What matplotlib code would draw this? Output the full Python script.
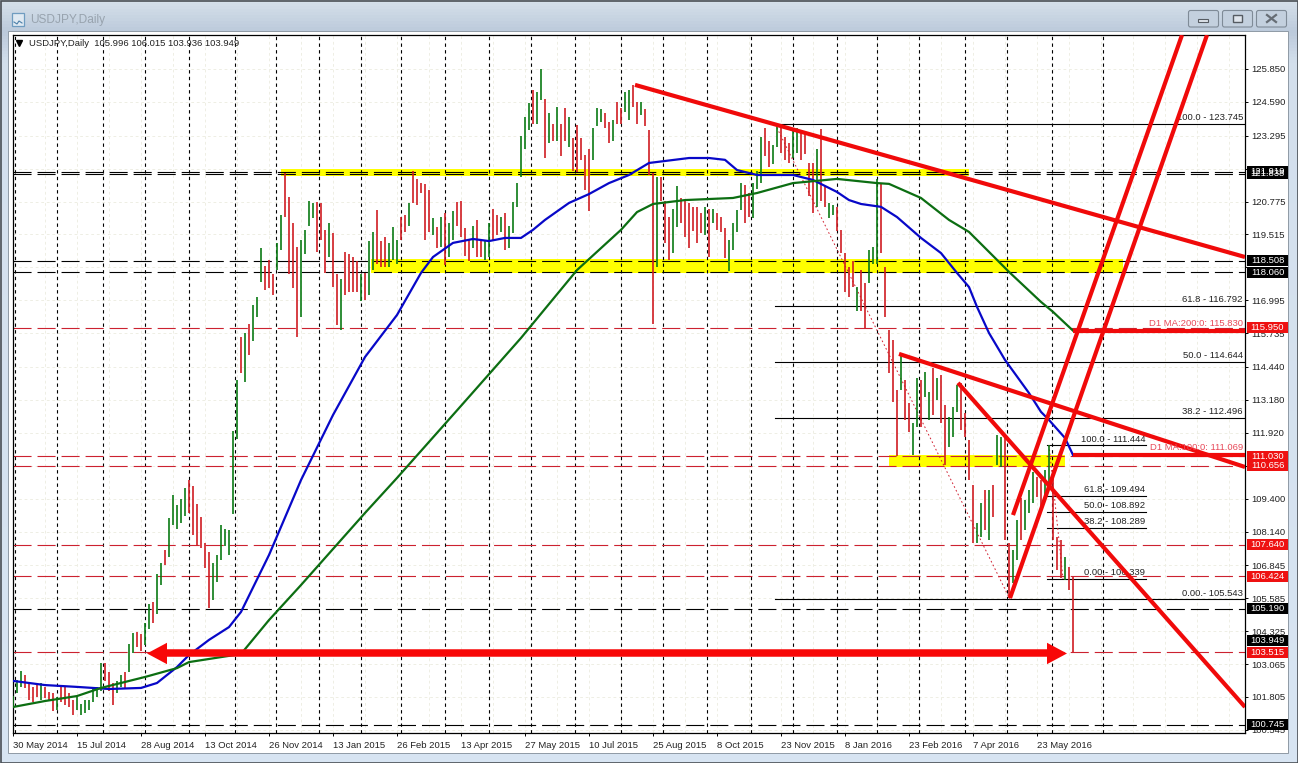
import numpy as np
import matplotlib
matplotlib.use('Agg')
import matplotlib.pyplot as plt
from matplotlib.patches import Rectangle, FancyBboxPatch
from matplotlib.transforms import blended_transform_factory

plt.rcParams['font.family'] = ['Liberation Sans', 'DejaVu Sans']
plt.rcParams['lines.scale_dashes'] = False

# daily bars, one value every second trading day
highs = [
    101.85, 102.45, 102.8, 102.65, 102.35, 102.2, 102.25, 102.35, 102.2, 102.0, 101.95, 101.8, 102.25, 102.2, 101.95, 101.7,
    101.8, 101.55, 101.7, 101.7, 102.15, 102.2, 103.1, 103.1, 102.75, 102.35, 102.4, 102.65, 102.75, 103.85, 104.25, 104.3,
    104.2, 104.65, 105.35, 105.45, 106.5, 106.95, 107.45, 108.65, 109.55, 109.15, 109.4, 109.8, 110.1, 109.9, 109.2, 108.7,
    107.7, 107.35, 106.95, 107.25, 108.4, 108.25, 108.2, 112.0, 113.95, 115.6, 115.75, 116.1, 116.8, 117.1, 119.0, 118.3,
    118.55, 118.0, 119.2, 120.25, 121.85, 120.95, 119.95, 119.05, 119.3, 119.7, 120.8, 120.7, 120.75, 120.7, 119.7, 119.95,
    119.55, 118.0, 117.8, 118.85, 118.75, 118.65, 118.5, 118.0, 118.05, 119.25, 119.6, 120.45, 119.25, 119.4, 119.2, 119.8,
    119.3, 120.2, 120.25, 120.7, 121.95, 121.65, 121.5, 121.45, 121.2, 120.15, 119.8, 120.2, 120.35, 119.95, 120.4, 120.75,
    120.8, 119.75, 119.35, 119.85, 120.05, 119.3, 119.25, 119.95, 120.5, 120.25, 120.2, 120.35, 119.85, 120.75, 121.5, 123.3,
    124.0, 124.55, 125.05, 124.95, 125.85, 124.7, 124.15, 123.75, 124.4, 123.75, 124.35, 124.0, 123.2, 123.7, 123.2, 122.55,
    122.8, 123.6, 124.35, 124.3, 124.15, 123.8, 123.9, 124.6, 124.35, 124.95, 125.05, 125.25, 124.6, 124.6, 124.3, 123.5,
    121.85, 121.7, 121.7, 120.8, 120.2, 120.5, 121.35, 120.9, 120.8, 120.7, 120.55, 120.55, 120.35, 120.55, 120.5, 120.5,
    120.35, 120.2, 119.75, 119.3, 119.95, 120.45, 121.5, 121.4, 121.1, 121.5, 121.95, 123.25, 123.6, 123.1, 122.95, 123.7,
    123.6, 123.25, 123.0, 123.5, 123.6, 123.45, 123.45, 122.25, 122.25, 122.8, 123.55, 121.35, 120.7, 120.65, 120.55, 119.7,
    118.8, 118.25, 118.5, 117.5, 118.15, 117.65, 118.9, 119.05, 121.65, 121.5, 118.25, 115.86, 115.47, 113.56, 114.9, 113.94,
    113.06, 112.29, 114.02, 113.94, 114.25, 113.48, 114.4, 114.02, 114.13, 112.98, 112.52, 112.91, 113.75, 113.83, 112.68, 111.64,
    109.92, 108.47, 109.23, 109.73, 109.73, 109.92, 111.84, 111.76, 111.76, 107.7, 107.43, 108.58, 109.42, 109.35, 109.73, 110.42,
    110.23, 110.11, 110.49, 111.45, 110.49, 107.93, 107.82, 107.16, 106.78, 106.4,
]
lows = [
    101.42, 101.95, 102.2, 102.15, 101.7, 101.6, 101.8, 101.7, 101.75, 101.7, 101.25, 101.3, 101.6, 101.5, 101.42, 101.1,
    101.3, 101.1, 101.2, 101.3, 101.6, 101.8, 102.05, 102.4, 102.05, 101.5, 101.95, 102.2, 102.15, 102.75, 103.5, 103.7,
    103.55, 103.8, 104.4, 104.65, 105.0, 106.1, 106.85, 107.15, 108.4, 108.25, 108.45, 108.75, 108.85, 108.0, 107.6, 107.5,
    106.75, 105.2, 105.5, 106.2, 107.05, 107.6, 107.25, 108.8, 111.7, 114.2, 113.85, 114.9, 115.45, 116.35, 117.7, 117.4,
    117.45, 117.2, 118.15, 118.9, 120.2, 118.0, 117.45, 115.6, 116.35, 118.75, 119.85, 120.15, 118.85, 119.3, 118.05, 118.65,
    117.5, 116.05, 115.85, 117.2, 117.3, 117.3, 117.3, 116.95, 117.0, 117.2, 118.15, 118.4, 118.25, 118.25, 118.25, 118.55,
    118.4, 119.3, 119.6, 119.85, 120.7, 120.65, 121.1, 119.3, 119.6, 119.5, 119.0, 119.05, 118.35, 118.65, 119.3, 119.85,
    119.4, 118.7, 118.5, 119.0, 118.65, 118.65, 118.55, 118.65, 119.3, 119.5, 119.6, 118.9, 119.0, 119.55, 120.55, 121.7,
    122.8, 123.5, 123.75, 123.75, 124.65, 122.45, 123.0, 123.1, 123.1, 122.5, 123.1, 122.85, 121.95, 121.9, 122.35, 121.2,
    120.4, 122.35, 123.65, 123.8, 123.6, 123.0, 123.1, 123.75, 123.75, 124.2, 123.9, 124.4, 123.75, 124.1, 123.65, 121.8,
    116.1, 118.27, 120.8, 119.2, 118.55, 118.8, 119.8, 119.95, 119.4, 119.0, 119.65, 119.2, 119.55, 119.5, 118.65, 119.95,
    119.7, 119.6, 118.6, 118.1, 118.9, 119.6, 120.45, 119.95, 120.2, 120.15, 121.25, 121.5, 122.5, 122.1, 122.2, 122.85,
    122.65, 122.35, 122.25, 122.45, 122.65, 122.35, 122.6, 121.0, 120.35, 120.55, 120.8, 120.55, 120.15, 120.25, 119.65, 118.8,
    117.3, 117.1, 117.5, 116.6, 116.6, 115.95, 117.65, 118.4, 118.4, 118.8, 116.35, 114.21, 113.1, 111.03, 113.56, 112.41,
    111.95, 111.07, 112.14, 112.14, 113.29, 112.41, 112.6, 113.18, 112.3, 110.69, 111.38, 111.76, 112.72, 112.03, 111.76, 110.11,
    107.7, 107.7, 107.93, 108.2, 107.82, 108.7, 110.69, 110.61, 107.82, 105.59, 106.17, 107.05, 107.82, 108.2, 108.85, 109.23,
    109.46, 109.08, 109.46, 109.85, 107.82, 106.67, 106.36, 106.28, 105.9, 103.52,
]
# g = close above open, r = close below open
directions = (
    "gggrrrrgrrrgrrrr" "gggggggrrrggrggr" "rggrggrgggggrrrr" "rrgggggggrgrgggr"
    "rrggrrrrggggrrrg" "rrgrrrrgrggrrrgg" "grrgrrrrrgrgrggr" "rrrgrrggrrgrgggg"
    "ggrggrgrgrrgrrrr" "rgggrrgrrggrrgrr" "rgrrrggrrrrrrgrg" "rrrggggrrgggrrgg"
    "rrrggrrrrgrrggrr" "rrrgrrgggrrrrrgr" "rggrggrgrrgggrrr" "rggrgrggrrggrggg"
    "rrggrrrgrr"
)

ma100_bars = [0, 8, 16, 24, 32, 36, 41, 44, 49, 54, 57, 64, 72, 80, 88, 96, 102, 105, 110, 115, 119, 123, 127,
              130, 133, 139, 144, 149, 154, 159, 169, 174, 178, 181, 186, 195, 200, 206, 209, 212, 217, 221,
              227, 232, 236, 239, 241, 244, 248, 254, 257, 259, 263, 265]
ma100 = [102.42, 102.26, 102.19, 102.11, 102.15, 102.34, 102.95, 103.41, 103.99, 104.48, 105.06, 107.24,
         110.11, 112.60, 114.82, 116.43, 118.04, 118.65, 119.19, 119.34, 119.26, 119.38, 119.38,
         119.69, 120.07, 120.72, 121.06, 121.48, 121.79, 122.25, 122.44, 122.44, 122.37, 121.98, 121.79,
         121.79, 121.60, 121.14, 120.83, 120.68, 120.57, 120.18, 119.38, 118.80, 118.04, 117.50, 116.74,
         115.74, 114.71, 113.44, 112.72, 112.41, 111.72, 111.07]
ma200_bars = [0, 8, 16, 22, 33, 41, 44, 57, 64, 72, 80, 88, 96, 104, 112, 127, 141, 152, 156, 160, 168, 180,
              186, 195, 206, 216, 219, 227, 234, 239, 246, 249, 257, 260, 265]
ma200 = [101.42, 101.65, 101.84, 102.15, 102.57, 102.91, 103.14, 103.45, 104.75, 106.09, 107.47, 108.85,
         110.19, 111.57, 112.95, 115.55, 118.15, 119.69, 120.37, 120.68, 120.83, 120.91,
         121.10, 121.48, 121.64, 121.48, 121.45, 120.91, 120.07, 119.61, 118.54, 118.08, 116.93, 116.55, 115.83]

# axis
date_labels = ['30 May 2014', '15 Jul 2014', '28 Aug 2014', '13 Oct 2014', '26 Nov 2014', '13 Jan 2015',
               '26 Feb 2015', '13 Apr 2015', '27 May 2015', '10 Jul 2015', '25 Aug 2015', '8 Oct 2015',
               '23 Nov 2015', '8 Jan 2016', '23 Feb 2016', '7 Apr 2016', '23 May 2016']
price_ticks = [125.850, 124.590, 123.295, 122.035, 120.775, 119.515, 118.255, 116.995, 115.735, 114.440,
               113.180, 111.920, 110.660, 109.400, 108.140, 106.845, 105.585, 104.325, 103.065, 101.805, 100.545]
hidden_ticks = [122.035, 118.255, 110.660]
separators = [0.5, 11, 22.5, 33, 44, 55.5, 65.75, 76.5, 87, 97, 108, 119, 129.5, 140.5, 152, 162.5, 173.5,
              184.5, 195, 206, 216, 226.5, 238, 248.5, 259.75, 272.5]

# horizontal levels
black_levels = [121.919, 121.838, 118.508, 118.060, 105.190, 100.745]
red_levels = [115.950, 111.030, 110.656, 107.640, 106.424, 103.515]
current_price = 103.949

# zones: bar from, bar to, price top, price bottom
zone_start = [67, 89.5, 219]
zone_end = [239, 277.5, 263]
zone_top = [122.03, 118.56, 111.08]
zone_bottom = [121.76, 118.02, 110.62]

# fibonacci retracements
fib_long = [(100.0, 123.745), (61.8, 116.792), (50.0, 114.644), (38.2, 112.496), (0.0, 105.543)]
fib_short = [(100.0, 111.444), (61.8, 109.494), (50.0, 108.892), (38.2, 108.289), (0.0, 106.339)]

# hand drawn trendlines: bar, price, bar, price
trend_lines = [
    (155.5, 125.24, 308, 118.65),
    (221.5, 114.94, 308, 110.61),
    (236.25, 113.83, 308, 101.42),
    (250, 108.77, 292.25, 127.15),
    (249.25, 105.59, 298.5, 127.15),
    (265, 115.83, 308, 115.83),
    (265, 111.07, 308, 111.07),
]
arrow_left = 33.5
arrow_right = 263.5
arrow_price = 103.47

# window frame first, everything in pixels
fig = plt.figure(figsize=(12.98, 7.63), dpi=100)
bg = fig.add_axes([0, 0, 1, 1])
bg.set_xlim(0, 1298)
bg.set_ylim(763, 0)
bg.axis('off')
grad = np.linspace(0, 1, 763).reshape(-1, 1)
frame_cmap = matplotlib.colors.LinearSegmentedColormap.from_list(
    'frame', [(0, '#d5e0ea'), (0.04, '#bccadb'), (0.08, '#d3dfec'), (1, '#d8e5f3')])
bg.imshow(grad, extent=(0, 1298, 763, 0), aspect='auto', cmap=frame_cmap, zorder=0)
bg.add_patch(Rectangle((0.5, 0.5), 1297, 762, fc='none', ec='#4a4f55', lw=1.2, zorder=1))
bg.add_patch(Rectangle((8, 31), 1280, 722, fc='white', ec='#8f9aa5', lw=0.7, zorder=1))
bg.text(30, 20.5, 'USDJPY,Daily', color='#98a3ae', fontsize=8.6, va='center', ha='left')
bg.add_patch(Rectangle((12, 13), 12, 13, fc='#dfe9f2', ec='#6f9cc0', lw=0.9))
bg.plot([14, 17, 19, 22], [22, 24, 21, 23], color='#4b7fa8', lw=0.8)
for bx in [1188.5, 1222.5, 1256.5]:
    bg.add_patch(FancyBboxPatch((bx, 10.5), 30, 16.5, boxstyle='round,pad=0,rounding_size=2',
                                fc='#c3d0de', ec='#7f8b97', lw=0.8))
bg.add_patch(Rectangle((1198, 18.5), 10, 3.5, fc='#dfe5ec', ec='#555b62', lw=0.8))
bg.add_patch(Rectangle((1233, 15), 9, 7, fc='#dfe5ec', ec='#555b62', lw=1.0))
bg.plot([1267, 1276], [15, 22], color='#666d75', lw=1.6)
bg.plot([1267, 1276], [22, 15], color='#666d75', lw=1.6)

# chart area
ax = fig.add_axes([12.7 / 1298, 1 - 733 / 763, (1245 - 12.7) / 1298, (733 - 35) / 763])
ax.set_facecolor('white')
ax.set_xlim(-0.075, 308)
ax.set_ylim(100.425, 127.15)

ax.set_xticks(np.arange(len(date_labels)) * 16)
ax.set_xticklabels(date_labels, ha='left', fontsize=6.8, color='#222222')
ax.set_xticks(np.arange(0, 308, 8), minor=True)
ax.yaxis.tick_right()
ax.set_yticks(price_ticks)
ax.set_yticklabels(['' if p in hidden_ticks else '%.3f' % p for p in price_ticks], fontsize=6.8, color='#222222')
ax.tick_params(axis='x', which='major', length=2.5, width=0.7, pad=3)
ax.tick_params(axis='x', which='minor', length=0)
ax.tick_params(axis='y', length=2.5, width=0.7, pad=2)
for s in ax.spines.values():
    s.set_linewidth(0.9)
    s.set_color('black')

grid_style = dict(color='#eeeee4', lw=0.7, linestyle=(0, (2, 2)), zorder=0)
ax.xaxis.grid(True, which='both', **grid_style)
ax.yaxis.grid(True, which='major', **grid_style)
ax.set_axisbelow(True)

for start, end, top, bottom in zip(zone_start, zone_end, zone_top, zone_bottom):
    ax.fill_between([start, end], bottom, top, color='#ffff00', lw=0, zorder=1)

for sx in separators:
    ax.axvline(sx, color='black', lw=0.8, linestyle=(0, (2.4, 2.4)), zorder=2)

long_dash = (0, (13, 4.3))
for lvl in black_levels:
    ax.axhline(lvl, color='black', lw=0.8, linestyle=long_dash, zorder=2)
for lvl in red_levels:
    ax.axhline(lvl, color='#cc2230', lw=0.8, linestyle=long_dash, zorder=2)

# fib levels
for pct, price in fib_long:
    ax.plot([190.5, 308], [price, price], color='black', lw=0.8, zorder=3)
    name = '0.00.- %.3f' % price if pct == 0 else '%.1f - %.3f' % (pct, price)
    ax.annotate(name, (308, price), xytext=(-1.5, 1.2), textcoords='offset points',
                ha='right', va='bottom', fontsize=6.8, color='#222222', zorder=6)
for pct, price in fib_short:
    ax.plot([258.5, 283.25], [price, price], color='black', lw=0.8, zorder=3)
    name = '0.00.- %.3f' % price if pct == 0 else '%.1f - %.3f' % (pct, price)
    ax.annotate(name, (283.25, price), xytext=(-0.5, 1.2), textcoords='offset points',
                ha='right', va='bottom', fontsize=6.8, color='#222222', zorder=6)
ax.plot([190.5, 249.25], [fib_long[0][1], fib_long[-1][1]], color='#d02030', lw=0.7,
        linestyle=(0, (1.2, 1.8)), zorder=3)
ax.plot([259, 262.5], [fib_short[0][1], fib_short[-1][1]], color='#d02030', lw=0.7,
        linestyle=(0, (1.2, 1.8)), zorder=3)

# bars
bar_x = np.arange(len(highs))
is_up = np.array([d == 'g' for d in directions])
ax.vlines(bar_x[is_up], np.array(lows)[is_up], np.array(highs)[is_up], color='#0a7a14', lw=1.2, zorder=4)
ax.vlines(bar_x[~is_up], np.array(lows)[~is_up], np.array(highs)[~is_up], color='#d01c22', lw=1.2, zorder=4)

# moving averages
ax.plot(ma100_bars, ma100, color='#0808c8', lw=1.6, zorder=5)
ax.plot(ma200_bars, ma200, color='#0c6e12', lw=1.6, zorder=5)

# trendlines
for x0, p0, x1, p1 in trend_lines:
    ax.plot([x0, x1], [p0, p1], color='#f00a0a', lw=3.0, solid_capstyle='butt', zorder=7)

# double arrow across the range
ax.plot([arrow_left + 5, arrow_right - 5], [arrow_price, arrow_price], color='#f80808', lw=5.4,
        solid_capstyle='butt', zorder=7)
ax.fill([arrow_left, arrow_left + 5, arrow_left + 5],
        [arrow_price, arrow_price + 0.41, arrow_price - 0.41], color='#f80808', lw=0, zorder=7)
ax.fill([arrow_right, arrow_right - 5, arrow_right - 5],
        [arrow_price, arrow_price + 0.41, arrow_price - 0.41], color='#f80808', lw=0, zorder=7)

# moving average labels
ax.annotate('D1 MA:200:0: 115.830', (308, 115.83), xytext=(-1.5, 2), textcoords='offset points',
            ha='right', va='bottom', fontsize=6.8, color='#e84a5a', zorder=8)
ax.annotate('D1 MA:100:0: 111.069', (308, 111.07), xytext=(-1.5, 2), textcoords='offset points',
            ha='right', va='bottom', fontsize=6.8, color='#e84a5a', zorder=8)

# price boxes on the right
trans = blended_transform_factory(ax.transAxes, ax.transData)
box_left = 1 + 2 / 1232
box_width = 41 / 1232
box_height = 11 * 0.03829
boxes = [(lvl, 'black') for lvl in black_levels] + [(lvl, '#ee1111') for lvl in red_levels] + [(current_price, 'black')]
boxes.sort(key=lambda b: -b[0])
for lvl, col in boxes:
    ax.add_patch(Rectangle((box_left, lvl - box_height / 2), box_width, box_height, transform=trans,
                           fc=col, ec='none', clip_on=False, zorder=9))
    ax.text(box_left + box_width / 2, lvl, '%.3f' % lvl, transform=trans, color='white', fontsize=6.8,
            ha='center', va='center', clip_on=False, zorder=10)

# symbol line at the top
ax.plot([0.005], [0.9885], marker='v', ms=4.2, color='black', transform=ax.transAxes, zorder=8, clip_on=False)
ax.text(16 / 1232, 0.9885, 'USDJPY,Daily  105.996 106.015 103.936 103.949', transform=ax.transAxes,
        fontsize=6.8, color='#222222', ha='left', va='center', zorder=8)

fig.savefig('out.png', dpi=100, facecolor='#d8e5f3')
